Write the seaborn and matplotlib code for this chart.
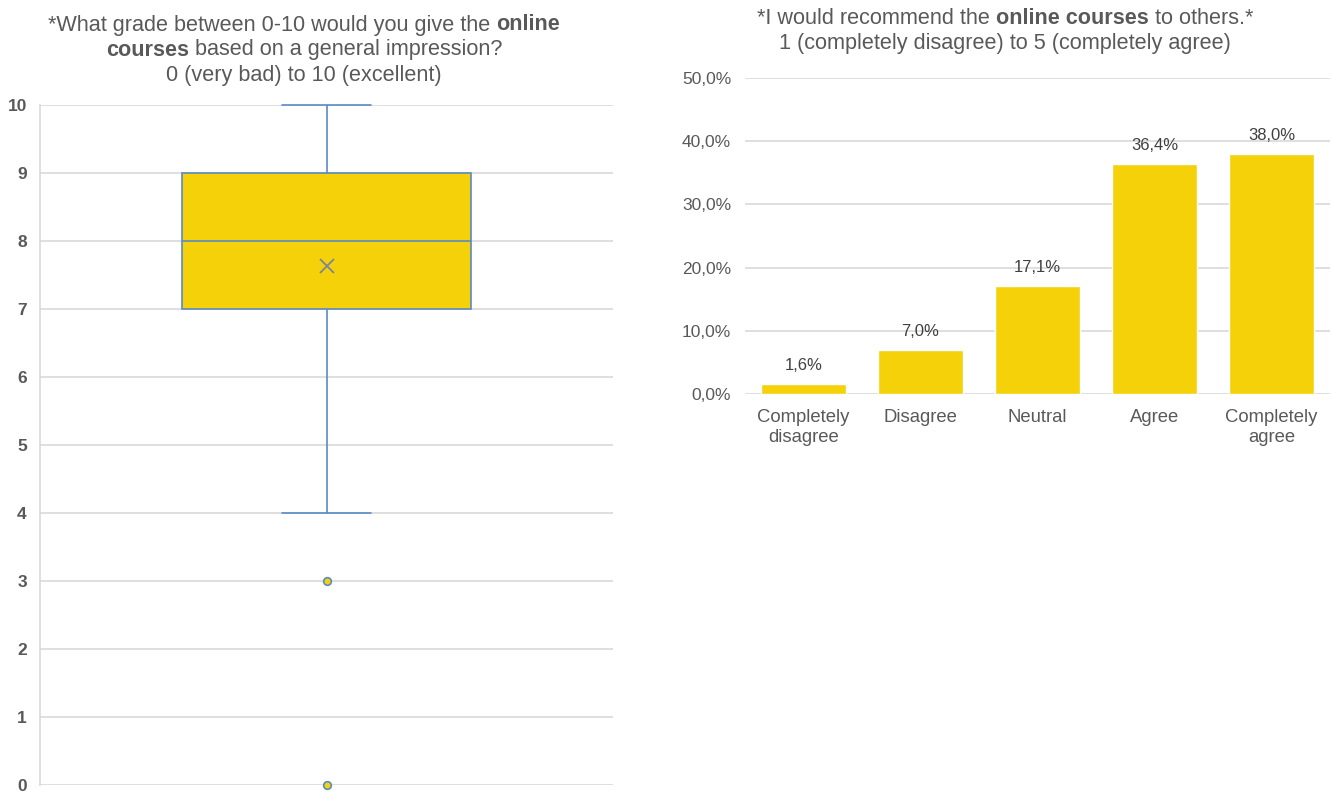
import numpy as np
import pandas as pd
import matplotlib
matplotlib.use("Agg")
import matplotlib.pyplot as plt
from matplotlib.ticker import FuncFormatter
import seaborn as sns

# grade distribution (q1=7, median=8, q3=9, whiskers 4-10, outliers 3 and 0)
grade_values = [0, 3, 4, 5, 6, 7, 8, 9, 10]
grade_counts = [1, 1, 2, 5, 14, 30, 40, 30, 8]

# recommendation shares
answers = ["Completely\ndisagree", "Disagree", "Neutral", "Agree", "Completely\nagree"]
shares = [1.6, 7.0, 17.1, 36.4, 38.0]

YELLOW = "#F5D10A"
BLUE = "#5A8AC6"
GRID = "#D9D9D9"
TXT = "#595959"

sns.set_theme(style="white")
plt.rcParams["font.family"] = ["Liberation Sans", "DejaVu Sans"]

fig = plt.figure(figsize=(13.33, 7.94), dpi=100)
W, H = 1333, 794

def px_axes(x0, y_top, x1, y_bot):
    return fig.add_axes([x0 / W, 1 - y_bot / H, (x1 - x0) / W, (y_bot - y_top) / H])

# ---------- left: box plot ----------
ax1 = px_axes(40, 105, 613, 785)
grades = pd.DataFrame({"grade": np.repeat(grade_values, grade_counts)})
sns.boxplot(data=grades, y="grade", ax=ax1, width=0.503, whis=1.5,
            color=YELLOW, linecolor=BLUE, linewidth=1.2, saturation=1,
            showmeans=True,
            meanprops=dict(marker="x", markersize=10, markeredgecolor="#7A8696",
                           markeredgewidth=1.3),
            flierprops=dict(marker="o", markersize=5.5, markerfacecolor=YELLOW,
                            markeredgecolor=BLUE, markeredgewidth=1.2),
            capwidths=0.154)
for ln in ax1.lines:
    ln.set_clip_on(False)
ax1.set_xlim(-0.5, 0.5)
ax1.set_ylim(0, 10)
ax1.set_yticks(range(0, 11))
ax1.set_xticks([])
ax1.set_xlabel("")
ax1.set_ylabel("")
ax1.yaxis.grid(True, color=GRID, linewidth=1.2)
ax1.set_axisbelow(True)
ax1.tick_params(axis="y", length=0, pad=9.5, labelsize=12.5, labelcolor=TXT)
for lb in ax1.get_yticklabels():
    lb.set_fontweight("bold")
for s in ax1.spines.values():
    s.set_visible(False)
ax1.spines["left"].set_visible(True)
ax1.spines["left"].set_color(GRID)
ax1.spines["left"].set_linewidth(1.2)

# ---------- right: bar chart ----------
ax2 = px_axes(745, 78, 1330, 394)
bar_df = pd.DataFrame({"answer": answers, "share": shares})
sns.barplot(data=bar_df, x="answer", y="share", ax=ax2, color=YELLOW,
            saturation=1, width=0.72)
ax2.set_xlim(-0.5, 4.5)
ax2.set_ylim(0, 50)
ax2.set_yticks(range(0, 51, 10))
ax2.yaxis.set_major_formatter(FuncFormatter(lambda v, p: f"{v:.1f}%".replace(".", ",")))
ax2.set_xlabel("")
ax2.set_ylabel("")
ax2.yaxis.grid(True, color=GRID, linewidth=1.2)
ax2.set_axisbelow(True)
ax2.tick_params(axis="y", length=0, pad=10, labelsize=12.5, labelcolor=TXT)
ax2.tick_params(axis="x", length=0, pad=10.5, labelsize=13.3, labelcolor=TXT)
for lb in ax2.get_xticklabels():
    lb.set_linespacing(1.3)
for s in ax2.spines.values():
    s.set_visible(False)
for c in ax2.containers:
    ax2.bar_label(c, labels=[f"{v:.1f}%".replace(".", ",") for v in shares],
                  padding=8, fontsize=12, color="#404040")

# ---------- titles with bold fragments ----------
renderer = fig.canvas.get_renderer()

def text_w(s, weight, size):
    t = fig.text(0, 0, s, fontsize=size, fontweight=weight)
    w = t.get_window_extent(renderer).width
    t.remove()
    return w

def rich_line(xc, yc, parts, size=15.6):
    sp = text_w("a a", "normal", size) - text_w("aa", "normal", size)
    widths = []
    for s, wt in parts:
        widths.append(text_w(s.strip(), wt, size))
    gaps = [sp if i < len(parts) - 1 else 0 for i in range(len(parts))]
    total = sum(widths) + sum(gaps)
    x = xc - total / 2
    for (s, wt), w, g in zip(parts, widths, gaps):
        fig.text(x / W, 1 - yc / H, s.strip(), fontsize=size, fontweight=wt,
                 color=TXT, va="center", ha="left")
        x += w + g

rich_line(304, 25, [("*What grade between 0-10 would you give the", "normal"), ("online", "bold")])
rich_line(304, 50, [("courses", "bold"), ("based on a general impression?", "normal")])
rich_line(304, 75, [("0 (very bad) to 10 (excellent)", "normal")])

rich_line(1005, 18, [("*I would recommend the", "normal"), ("online courses", "bold"),
                     ("to others.*", "normal")])
rich_line(1005, 43, [("1 (completely disagree) to 5 (completely agree)", "normal")])

fig.savefig("out.png", dpi=100)
